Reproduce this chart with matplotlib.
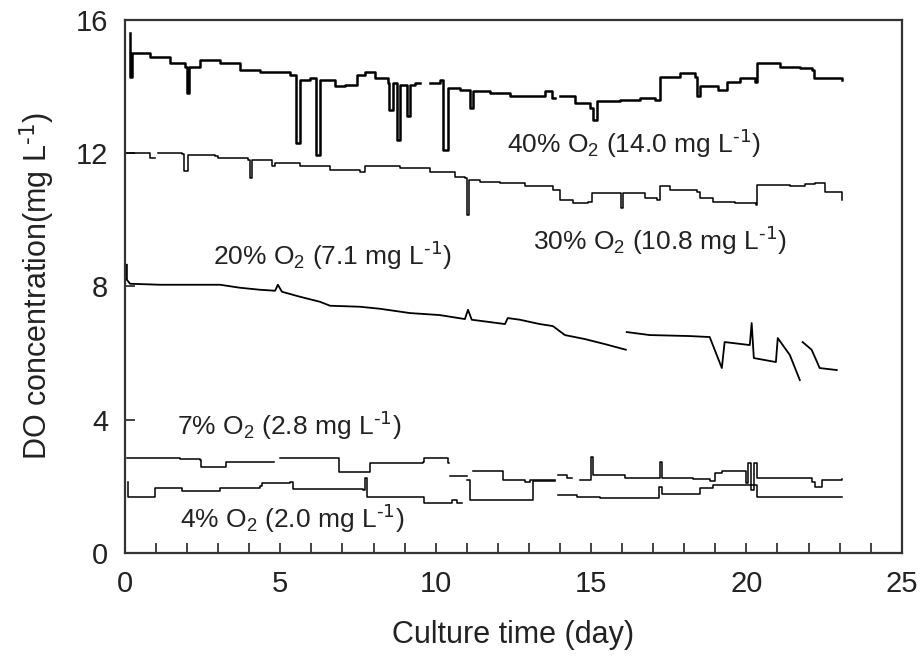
import numpy as np
import matplotlib
matplotlib.use("Agg")
import matplotlib.pyplot as plt
from matplotlib.ticker import MultipleLocator

plt.rcParams['font.family'] = ['Liberation Sans', 'DejaVu Sans']
plt.rcParams['mathtext.default'] = 'regular'

nan = np.nan

# DO traces (day, mg/L); nan = gap in the record
t40 = [0.16, 0.16, 0.22, 0.8, 1.45, 1.93, 2.0, 2.06, 2.4, 3.05, 3.7, 4.35, 5.0, 5.3, 5.5, 5.63,
       5.95, 6.15, 6.27, 6.76, 7.08, 7.46, 7.72, 8.04, 8.46, 8.5, 8.62, 8.75, 8.85, 9.07, 9.17,
       9.33, 9.5, 9.81, 10.13, 10.23, 10.4, 10.78, 11.1, 11.2, 11.74, 12.39, 13.03, 13.51, 13.74,
       13.85, 14.0, 14.48, 14.96, 15.06, 15.19, 15.93, 16.57, 17.05, 17.21, 17.86, 18.34, 18.4,
       18.5, 19.08, 19.37, 19.79, 20.27, 20.33, 21.07, 21.72, 22.1, 22.17, 23.07]
do40 = [15.6, 14.3, 15.0, 14.9, 14.7, 14.6, 13.8, 14.6, 14.8, 14.7, 14.5, 14.45, 14.45, 14.35,
        12.3, 14.2, 14.25, 11.95, 14.2, 14.0, 14.05, 14.35, 14.45, 14.25, 14.1, 13.3, 14.1, 12.4,
        14.05, 13.1, 14.05, 14.1, nan, 14.1, 14.2, 12.1, 13.95, 13.9, 13.35, 13.85, 13.8, 13.7,
        13.7, 13.85, 13.65, nan, 13.7, 13.5, 13.35, 13.0, 13.55, 13.6, 13.65, 13.6, 14.3, 14.4,
        14.3, 13.7, 14.0, 13.9, 14.15, 14.25, 14.15, 14.7, 14.6, 14.55, 14.5, 14.25, 14.2]

t30 = [0.05, 0.71, 0.8, 0.95, 1.06, 1.83, 1.9, 2.03, 2.9, 2.99, 3.96, 4.02, 4.09, 4.67, 4.73,
       4.83, 5.63, 6.6, 7.56, 7.72, 8.85, 9.81, 10.62, 10.94, 11.0, 11.07, 11.42, 12.07, 12.87,
       13.77, 14.0, 14.41, 14.9, 15.03, 15.93, 15.96, 16.02, 16.73, 17.12, 17.21, 17.54, 18.4,
       18.5, 18.92, 19.63, 20.3, 20.33, 21.4, 21.88, 22.2, 22.52, 23.07]
do30 = [12.0, 12.0, 11.85, nan, 12.0, 11.98, 11.45, 11.95, 11.92, 11.85, 11.8, 11.26, 11.8, 11.8,
        11.6, 11.7, 11.62, 11.5, 11.44, 11.62, 11.55, 11.44, 11.29, 11.26, 10.15, 11.2, 11.14,
        11.11, 11.02, 10.9, 10.6, 10.5, 10.54, 10.8, 10.8, 10.36, 10.8, 10.66, 10.6, 11.02, 10.9,
        10.84, 10.66, 10.54, 10.5, 10.45, 11.05, 11.02, 11.08, 11.1, 10.84, 10.6]

t20 = [0.06, 0.06, 0.16, 1.13, 2.41, 3.06, 3.7, 4.34, 4.83, 4.92, 5.05, 5.63, 6.27, 6.6, 7.56,
       8.2, 9.17, 10.13, 10.94, 11.04, 11.16, 11.74, 12.23, 12.32, 12.71, 13.35, 13.77, 14.16,
       14.8, 15.44, 16.12, 16.13, 16.15, 16.89, 18.18, 18.82, 19.21, 19.3, 20.11, 20.17, 20.24,
       20.95, 21.01, 21.4, 21.72, 21.76, 21.81, 22.1, 22.36, 22.91]
do20 = [8.65, 8.2, 8.08, 8.05, 8.05, 8.05, 7.96, 7.9, 7.87, 8.05, 7.84, 7.69, 7.54, 7.42, 7.39,
        7.33, 7.2, 7.14, 7.02, 7.3, 7.0, 6.93, 6.87, 7.05, 7.0, 6.87, 6.81, 6.54, 6.42, 6.27, 6.1,
        nan, 6.63, 6.54, 6.51, 6.48, 5.55, 6.33, 6.24, 6.9, 5.85, 5.73, 6.45, 5.94, 5.19, nan,
        6.33, 6.1, 5.55, 5.49]

t7 = [0.06, 1.77, 2.41, 2.45, 3.15, 3.25, 4.57, 4.8, 4.99, 6.85, 6.89, 7.72, 7.88, 9.59, 9.62,
      10.36, 10.39, 10.42, 10.46, 10.78, 11.0, 11.2, 12.07, 12.16, 12.87, 13.03, 13.77, 13.85,
      13.93, 14.22, 14.4, 14.64, 14.96, 14.99, 15.06, 16.02, 16.09, 17.18, 17.21, 17.28, 18.28,
      18.82, 18.98, 19.21, 19.79, 19.98, 20.05, 20.14, 20.24, 20.33, 21.72, 22.1, 22.2, 22.43,
      23.07]
do7 = [2.85, 2.82, 2.79, 2.58, 2.58, 2.73, 2.73, nan, 2.85, 2.85, 2.43, 2.43, 2.7, 2.73, 2.85,
       2.85, 2.7, nan, 2.31, 2.31, nan, 2.46, 2.46, 2.19, 2.13, 2.19, 2.19, nan, 2.34, 2.25, nan,
       2.19, 2.19, 2.88, 2.34, 2.34, 2.25, 2.25, 2.73, 2.25, 2.22, 2.16, 2.4, 2.46, 2.46, 2.1,
       2.7, 1.89, 2.7, 2.25, 2.25, 2.13, 1.98, 2.19, 2.22]

t4 = [0.1, 0.1, 0.9, 0.97, 1.77, 1.83, 2.96, 3.06, 4.34, 4.41, 5.31, 5.41, 6.69, 7.66, 7.72,
      7.79, 9.59, 9.62, 10.46, 10.52, 10.68, 10.85, 11.0, 11.1, 12.07, 13.03, 13.13, 13.77,
      13.85, 13.93, 14.54, 15.28, 17.12, 17.18, 17.28, 18.18, 18.5, 18.92, 19.95, 20.33, 23.07]
do4 = [2.13, 1.68, 1.68, 1.95, 1.95, 1.86, 1.86, 1.95, 2.01, 2.1, 2.13, 1.92, 1.92, 1.89, 2.25,
       1.68, 1.68, 1.5, 1.5, 1.59, 1.5, nan, 2.19, 1.59, 1.59, 1.59, 2.16, 2.16, nan, 1.74, 1.68,
       1.65, 1.65, 1.98, 1.77, 1.77, 1.95, 2.04, 2.04, 1.68, 1.68]

labels = [r'40% O$_2$ (14.0 mg L$^{\text{-1}}$)', r'30% O$_2$ (10.8 mg L$^{\text{-1}}$)',
          r'20% O$_2$ (7.1 mg L$^{\text{-1}}$)', r'7% O$_2$ (2.8 mg L$^{\text{-1}}$)',
          r'4% O$_2$ (2.0 mg L$^{\text{-1}}$)']
label_x = [12.29, 13.13, 2.83, 1.67, 1.77]
label_y = [12.0, 9.1, 8.65, 3.54, 0.75]

fig = plt.figure(figsize=(9.22, 6.62), dpi=100)
ax = fig.add_axes([0.1356, 0.1647, 0.8424, 0.8053])

ax.plot(t40, do40, color='black', lw=1.8, drawstyle='steps-post')
ax.plot(t30, do30, color='black', lw=1.1, drawstyle='steps-post')
ax.plot(t20, do20, color='black', lw=1.3)
ax.plot(t7, do7, color='black', lw=1.1, drawstyle='steps-post')
ax.plot(t4, do4, color='black', lw=1.1, drawstyle='steps-post')

for s, x, y in zip(labels, label_x, label_y):
    ax.text(x, y, s, fontsize=19, ha='left', va='baseline', color='#222222')

ax.set_xlim(0, 25)
ax.set_ylim(0, 16)
ax.xaxis.set_major_locator(MultipleLocator(5))
ax.xaxis.set_minor_locator(MultipleLocator(1))
ax.yaxis.set_major_locator(MultipleLocator(4))
ax.tick_params(axis='both', which='both', direction='in', labelsize=21, colors='#222222',
               width=1.2)
ax.tick_params(axis='both', which='major', length=7, pad=12)
ax.tick_params(axis='x', which='minor', length=7)
for sp in ax.spines.values():
    sp.set_linewidth(1.6)
    sp.set_color('#333333')

ax.set_xlabel('Culture time (day)', fontsize=22, labelpad=16, color='#222222')
ax.set_ylabel(r'DO concentration(mg L$^{\text{-1}}$)', fontsize=22, labelpad=14, color='#222222')

fig.savefig('out.png', dpi=100)
